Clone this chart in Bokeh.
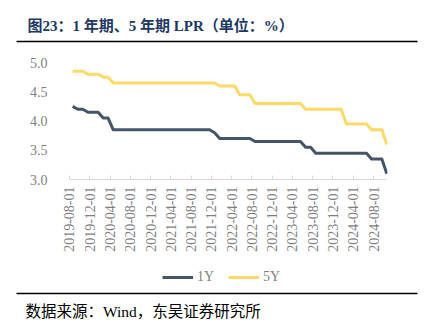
import math
from datetime import datetime
import pandas as pd
from bokeh.plotting import figure
from bokeh.models import (Range1d, FixedTicker, DatetimeTickFormatter, Legend, LegendItem,
                          PrintfTickFormatter)
from bokeh.layouts import column, row
from bokeh.core.properties import value
from bokeh.embed import file_html
from bokeh.resources import INLINE

# ---------------- data ----------------
months = [
    "2019-08-20", "2019-09-20", "2019-10-20", "2019-11-20", "2019-12-20",
    "2020-01-20", "2020-02-20", "2020-03-20", "2020-04-20", "2020-05-20", "2020-06-20",
    "2020-07-20", "2020-08-20", "2020-09-20", "2020-10-20", "2020-11-20", "2020-12-20",
    "2021-01-20", "2021-02-20", "2021-03-20", "2021-04-20", "2021-05-20", "2021-06-20",
    "2021-07-20", "2021-08-20", "2021-09-20", "2021-10-20", "2021-11-20", "2021-12-20",
    "2022-01-20", "2022-02-20", "2022-03-20", "2022-04-20", "2022-05-20", "2022-06-20",
    "2022-07-20", "2022-08-20", "2022-09-20", "2022-10-20", "2022-11-20", "2022-12-20",
    "2023-01-20", "2023-02-20", "2023-03-20", "2023-04-20", "2023-05-20", "2023-06-20",
    "2023-07-20", "2023-08-20", "2023-09-20", "2023-10-20", "2023-11-20", "2023-12-20",
    "2024-01-20", "2024-02-20", "2024-03-20", "2024-04-20", "2024-05-20", "2024-06-20",
    "2024-07-20", "2024-08-20", "2024-09-20", "2024-10-20",
]
lpr_1y = [
    4.25, 4.20, 4.20, 4.15, 4.15,
    4.15, 4.05, 4.05, 3.85, 3.85, 3.85, 3.85, 3.85, 3.85, 3.85, 3.85, 3.85,
    3.85, 3.85, 3.85, 3.85, 3.85, 3.85, 3.85, 3.85, 3.85, 3.85, 3.85, 3.80,
    3.70, 3.70, 3.70, 3.70, 3.70, 3.70, 3.70, 3.65, 3.65, 3.65, 3.65, 3.65,
    3.65, 3.65, 3.65, 3.65, 3.65, 3.55, 3.55, 3.45, 3.45, 3.45, 3.45, 3.45,
    3.45, 3.45, 3.45, 3.45, 3.45, 3.45, 3.35, 3.35, 3.35, 3.10,
]
lpr_5y = [
    4.85, 4.85, 4.85, 4.80, 4.80,
    4.80, 4.75, 4.75, 4.65, 4.65, 4.65, 4.65, 4.65, 4.65, 4.65, 4.65, 4.65,
    4.65, 4.65, 4.65, 4.65, 4.65, 4.65, 4.65, 4.65, 4.65, 4.65, 4.65, 4.65,
    4.60, 4.60, 4.60, 4.60, 4.45, 4.45, 4.45, 4.30, 4.30, 4.30, 4.30, 4.30,
    4.30, 4.30, 4.30, 4.30, 4.30, 4.20, 4.20, 4.20, 4.20, 4.20, 4.20, 4.20,
    4.20, 3.95, 3.95, 3.95, 3.95, 3.95, 3.85, 3.85, 3.85, 3.60,
]
tick_labels = [
    "2019-08-01", "2019-12-01", "2020-04-01", "2020-08-01", "2020-12-01",
    "2021-04-01", "2021-08-01", "2021-12-01", "2022-04-01", "2022-08-01",
    "2022-12-01", "2023-04-01", "2023-08-01", "2023-12-01", "2024-04-01",
    "2024-08-01",
]
y_ticks = [3.0, 3.5, 4.0, 4.5, 5.0]
series_names = ["1Y", "5Y"]
title_text = "图23：1 年期、5 年期 LPR（单位：%）"
source_text = "数据来源：Wind，东吴证券研究所"

SERIF = "Liberation Serif, Noto Sans CJK SC"
C1 = "#44546A"
C5 = "#FFD966"
GREY = "#7F7F7F"

dates = pd.to_datetime(months)
axis_start = datetime(2019, 8, 1)
axis_end = datetime(2024, 10, 24)

# ---------------- header ----------------
h = figure(width=427, height=44, x_range=Range1d(0, 427), y_range=Range1d(44, 0),
           output_backend="svg", toolbar_location=None, min_border=0,
           x_axis_location=None, y_axis_location=None)
h.grid.visible = False
h.outline_line_color = None
h.text(x=[27], y=[25], text=[title_text], text_font=value(SERIF), text_font_size="15px",
       text_font_style="bold", text_color="#203864", text_baseline="middle")
h.segment(x0=[16], y0=[41], x1=[417], y1=[41], line_color="#000000", line_width=1.5)

# ---------------- main chart ----------------
# frame extends below the 3.0 baseline (and a little left of the first date)
# so the rotated date labels and the legend are not clipped
p = figure(width=427, height=246, x_axis_type="datetime",
           x_range=Range1d(datetime(2019, 6, 2), axis_end),
           y_range=Range1d(1.103, 5.0),
           output_backend="svg", toolbar_location=None,
           min_border_left=59, min_border_right=40, min_border_top=18, min_border_bottom=0)
p.grid.visible = False
p.outline_line_color = None

r1 = p.line(dates, lpr_1y, line_color=C1, line_width=3, line_join="round")
r5 = p.line(dates, lpr_5y, line_color=C5, line_width=3, line_join="round")

xa = p.xaxis[0]
xa.fixed_location = y_ticks[0]
xa.bounds = (axis_start, axis_end)
xa.ticker = FixedTicker(ticks=[pd.Timestamp(t).value / 1e6 for t in tick_labels])
fmt = "%Y-%m-%d"
xa.formatter = DatetimeTickFormatter(days=fmt, months=fmt, years=fmt, hours=fmt,
                                     minutes=fmt, seconds=fmt, milliseconds=fmt,
                                     microseconds=fmt, hourmin=fmt, minsec=fmt)
xa.major_label_orientation = math.pi / 2
xa.major_label_standoff = 7
xa.axis_line_color = "#D9D9D9"
xa.major_tick_line_color = "#D9D9D9"
xa.major_tick_in = 4
xa.major_tick_out = 0
xa.minor_tick_line_color = None
xa.major_label_text_font = "Liberation Serif"
xa.major_label_text_font_size = "14px"
xa.major_label_text_color = GREY

ya = p.yaxis[0]
ya.ticker = FixedTicker(ticks=y_ticks)
ya.formatter = PrintfTickFormatter(format="%.1f")
ya.axis_line_color = None
ya.major_tick_line_color = None
ya.minor_tick_line_color = None
ya.major_label_standoff = 6
ya.major_label_text_font = "Liberation Serif"
ya.major_label_text_font_size = "14px"
ya.major_label_text_color = GREY

legend = Legend(items=[LegendItem(label=series_names[0], renderers=[r1]),
                       LegendItem(label=series_names[1], renderers=[r5])],
                orientation="horizontal", location=(103, 3),
                glyph_width=31, glyph_height=20, label_standoff=4, spacing=11,
                padding=0, margin=0, border_line_color=None, background_fill_alpha=0,
                label_text_font="Liberation Serif", label_text_font_size="14px",
                label_text_color=GREY)
p.add_layout(legend)

# ---------------- footer ----------------
f = figure(width=427, height=34, x_range=Range1d(0, 427), y_range=Range1d(34, 0),
           output_backend="svg", toolbar_location=None, min_border=0,
           x_axis_location=None, y_axis_location=None)
f.grid.visible = False
f.outline_line_color = None
f.segment(x0=[16], y0=[3], x1=[417], y1=[3], line_color="#000000", line_width=1.5)
f.text(x=[25], y=[21], text=[source_text], text_font=value(SERIF), text_font_size="15.5px",
       text_color="#000000", text_baseline="middle")

layout = column(row(h), p, row(f), spacing=0)
open("out.html", "w").write(file_html(layout, INLINE))
